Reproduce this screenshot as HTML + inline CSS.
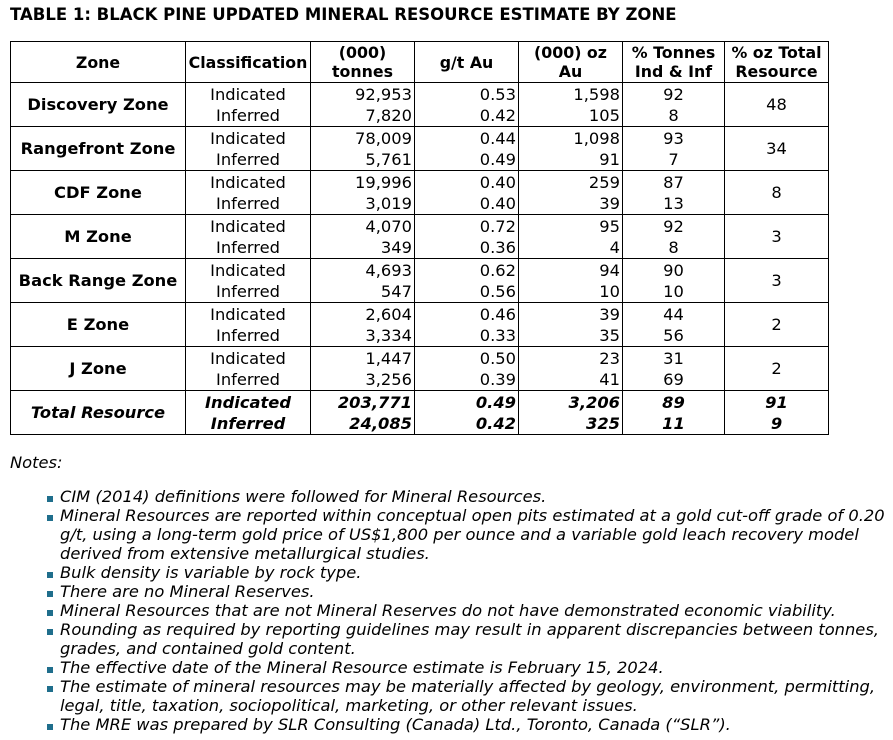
<!DOCTYPE html>
<html><head><meta charset="utf-8"><style>
body{margin:0;background:#fff;width:893px;height:740px;overflow:hidden;font-family:"DejaVu Sans",Verdana,sans-serif;color:#000;position:relative}
.t{position:absolute;left:10px;top:5px;font-weight:bold;font-size:16.5px;white-space:nowrap}
table{position:absolute;left:10px;top:41px;width:818px;border-collapse:collapse;table-layout:fixed;font-size:16.3px}
td{border:1.5px solid #000;padding:0 2px;line-height:21px;white-space:nowrap;vertical-align:middle;overflow:hidden}
tr.h{height:41px}
tr.h td{font-weight:bold;text-align:center;line-height:19px;padding:0;font-size:15.8px}
tr.g{height:44px}
.c{text-align:center}.r{text-align:right}.b{font-weight:bold}
.tot td{font-weight:bold;font-style:italic}
.notes{position:absolute;left:10px;top:453px;font-style:italic;font-size:16.3px}
ul{position:absolute;left:60px;top:487px;margin:0;padding:0;list-style:none;font-style:italic;font-size:16.3px;line-height:19px}
li{position:relative;white-space:nowrap}
li:before{content:"";position:absolute;left:-13px;top:9px;width:6px;height:6px;background:#1f6e8c}
</style></head><body>
<div class="t">TABLE 1: BLACK PINE UPDATED MINERAL RESOURCE ESTIMATE BY ZONE</div>
<table>
<colgroup><col style="width:175px"><col style="width:125px"><col style="width:104px"><col style="width:104px"><col style="width:104px"><col style="width:102px"><col style="width:104px"></colgroup>
<tr class="h"><td>Zone</td><td>Classification</td><td>(000)<br>tonnes</td><td>g/t Au</td><td>(000) oz<br>Au</td><td>% Tonnes<br>Ind &amp; Inf</td><td>% oz Total<br>Resource</td></tr>
<tr class="g"><td class="c b">Discovery Zone</td><td class="c">Indicated<br>Inferred</td><td class="r">92,953<br>7,820</td><td class="r">0.53<br>0.42</td><td class="r">1,598<br>105</td><td class="c">92<br>8</td><td class="c">48</td></tr>
<tr class="g"><td class="c b">Rangefront Zone</td><td class="c">Indicated<br>Inferred</td><td class="r">78,009<br>5,761</td><td class="r">0.44<br>0.49</td><td class="r">1,098<br>91</td><td class="c">93<br>7</td><td class="c">34</td></tr>
<tr class="g"><td class="c b">CDF Zone</td><td class="c">Indicated<br>Inferred</td><td class="r">19,996<br>3,019</td><td class="r">0.40<br>0.40</td><td class="r">259<br>39</td><td class="c">87<br>13</td><td class="c">8</td></tr>
<tr class="g"><td class="c b">M Zone</td><td class="c">Indicated<br>Inferred</td><td class="r">4,070<br>349</td><td class="r">0.72<br>0.36</td><td class="r">95<br>4</td><td class="c">92<br>8</td><td class="c">3</td></tr>
<tr class="g"><td class="c b">Back Range Zone</td><td class="c">Indicated<br>Inferred</td><td class="r">4,693<br>547</td><td class="r">0.62<br>0.56</td><td class="r">94<br>10</td><td class="c">90<br>10</td><td class="c">3</td></tr>
<tr class="g"><td class="c b">E Zone</td><td class="c">Indicated<br>Inferred</td><td class="r">2,604<br>3,334</td><td class="r">0.46<br>0.33</td><td class="r">39<br>35</td><td class="c">44<br>56</td><td class="c">2</td></tr>
<tr class="g"><td class="c b">J Zone</td><td class="c">Indicated<br>Inferred</td><td class="r">1,447<br>3,256</td><td class="r">0.50<br>0.39</td><td class="r">23<br>41</td><td class="c">31<br>69</td><td class="c">2</td></tr>
<tr class="g tot"><td class="c">Total Resource</td><td class="c">Indicated<br>Inferred</td><td class="r">203,771<br>24,085</td><td class="r">0.49<br>0.42</td><td class="r">3,206<br>325</td><td class="c">89<br>11</td><td class="c">91<br>9</td></tr>
</table>
<div class="notes">Notes:</div>
<ul>
<li>CIM (2014) definitions were followed for Mineral Resources.</li>
<li>Mineral Resources are reported within conceptual open pits estimated at a gold cut-off grade of 0.20<br>g/t, using a long-term gold price of US$1,800 per ounce and a variable gold leach recovery model<br>derived from extensive metallurgical studies.</li>
<li>Bulk density is variable by rock type.</li>
<li>There are no Mineral Reserves.</li>
<li>Mineral Resources that are not Mineral Reserves do not have demonstrated economic viability.</li>
<li>Rounding as required by reporting guidelines may result in apparent discrepancies between tonnes,<br>grades, and contained gold content.</li>
<li>The effective date of the Mineral Resource estimate is February 15, 2024.</li>
<li>The estimate of mineral resources may be materially affected by geology, environment, permitting,<br>legal, title, taxation, sociopolitical, marketing, or other relevant issues.</li>
<li>The MRE was prepared by SLR Consulting (Canada) Ltd., Toronto, Canada (“SLR”).</li>
</ul>
</body></html>
